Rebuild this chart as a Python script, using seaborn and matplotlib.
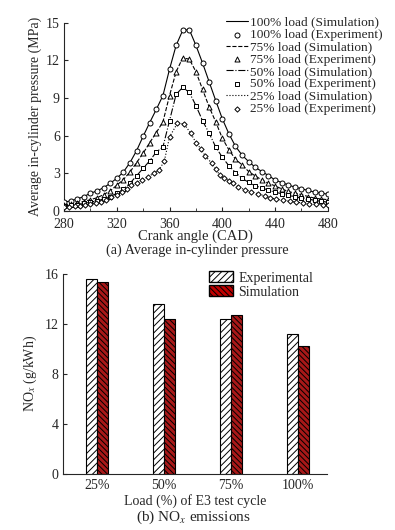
import numpy as np
import pandas as pd
import seaborn as sns
import matplotlib.pyplot as plt
from matplotlib.ticker import MultipleLocator
from matplotlib.patches import Patch

# ---------------- data: (a) in-cylinder pressure ----------------
cad = [280, 285, 290, 295, 300, 305, 310, 315, 320, 325, 330, 335, 340, 345, 350,
       355, 360, 365, 370, 375, 380, 385, 390, 395, 400, 405, 410, 415, 420, 425,
       430, 435, 440, 445, 450, 455, 460, 465, 470, 475, 480]
p100 = [0.70, 0.80, 0.95, 1.15, 1.40, 1.60, 1.85, 2.20, 2.60, 3.10, 3.85, 4.80, 5.95, 7.05, 8.10,
        9.20, 11.3, 13.2, 14.4, 14.45, 13.2, 11.8, 10.3, 8.80, 7.35, 6.15, 5.15, 4.45, 3.93, 3.48,
        3.14, 2.82, 2.47, 2.26, 2.07, 1.90, 1.77, 1.63, 1.50, 1.42, 1.33]
p75 = [0.50, 0.55, 0.65, 0.75, 0.90, 1.05, 1.30, 1.60, 2.05, 2.50, 3.10, 3.85, 4.60, 5.45, 6.25,
       7.10, 9.20, 11.1, 12.2, 12.1, 11.1, 9.70, 8.30, 7.10, 5.80, 4.87, 4.12, 3.67, 3.14, 2.79,
       2.47, 2.20, 2.00, 1.76, 1.55, 1.42, 1.30, 1.15, 1.02, 0.95, 0.90]
p50 = [0.40, 0.45, 0.50, 0.60, 0.70, 0.80, 0.95, 1.15, 1.40, 1.75, 2.20, 2.80, 3.40, 4.00, 4.70,
       5.10, 7.20, 9.30, 9.85, 9.45, 8.40, 7.20, 6.20, 5.10, 4.28, 3.60, 3.06, 2.60, 2.28, 2.00,
       1.84, 1.65, 1.50, 1.37, 1.25, 1.12, 1.04, 0.95, 0.85, 0.77, 0.70]
cad25 = [280, 284, 288, 292, 296, 300, 304, 308, 312, 316, 320, 324, 328, 331, 335, 339,
         344, 348, 352, 356, 360, 366, 371, 376, 380, 384, 387, 392, 395, 398, 401, 405,
         408, 412, 417, 422, 427, 432, 436, 441, 446, 451, 456, 461, 466, 471, 476, 480]
p25 = [0.30, 0.33, 0.37, 0.42, 0.48, 0.54, 0.62, 0.72, 0.88, 1.09, 1.28, 1.54, 1.78, 2.07, 2.26, 2.47,
       2.74, 3.00, 3.27, 3.95, 5.90, 7.00, 6.94, 6.20, 5.45, 4.92, 4.39, 3.80, 3.33, 2.87, 2.60, 2.42,
       2.20, 1.94, 1.68, 1.54, 1.36, 1.20, 1.06, 0.93, 0.85, 0.77, 0.70, 0.64, 0.58, 0.53, 0.50, 0.48]

# ---------------- data: (b) NOx emissions ----------------
loads = ['25%', '50%', '75%', '100%']
nox_exp = [15.6, 13.6, 12.4, 11.2]
nox_sim = [15.4, 12.4, 12.7, 10.2]

sns.set_style('ticks')
plt.rcParams['font.family'] = ['Liberation Serif', 'DejaVu Serif']
plt.rcParams['mathtext.fontset'] = 'stix'
plt.rcParams['font.size'] = 10
plt.rcParams['hatch.linewidth'] = 0.7

fig = plt.figure(figsize=(3.95, 5.3), dpi=100)

# ---------------- (a) ----------------
ax1 = fig.add_axes([0.162, 0.602, 0.668, 0.355])

# label, x, y, line style, marker, marker size
series = [
    ('100%', cad, p100, '-', 'o', 13),
    ('75%', cad, p75, '--', '^', 13),
    ('50%', cad, p50, '-.', 's', 8),
    ('25%', cad25, p25, ':', 'D', 7),
]
for name, x, y, ls, mk, ms in series:
    df = pd.DataFrame({'cad': x, 'p': y})
    sns.lineplot(data=df, x='cad', y='p', color='black', linestyle=ls, linewidth=0.8,
                 ax=ax1, label=f'{name} load (Simulation)')
    sns.scatterplot(data=df, x='cad', y='p', marker=mk, s=ms,
                    color='white', edgecolor='black', linewidth=0.7, ax=ax1,
                    label=f'{name} load (Experiment)', zorder=3)

ax1.set_xlim(280, 480)
ax1.set_ylim(0, 15)
ax1.xaxis.set_major_locator(MultipleLocator(40))
ax1.xaxis.set_minor_locator(MultipleLocator(20))
ax1.yaxis.set_major_locator(MultipleLocator(3))
ax1.tick_params(direction='in', length=3, width=0.8, labelsize=10)
ax1.tick_params(axis='x', pad=5)
ax1.tick_params(axis='y', pad=3)
ax1.tick_params(which='minor', direction='in', length=2, width=0.6)
ax1.set_xlabel('Crank angle (CAD)', fontsize=10.5, labelpad=-1)
ax1.set_ylabel('Average in-cylinder pressure (MPa)', fontsize=10, labelpad=3)
sns.despine(ax=ax1)
ax1.legend(loc='upper left', bbox_to_anchor=(0.572, 0.969), bbox_transform=fig.transFigure,
           frameon=False, fontsize=9.6, handlelength=1.65, handletextpad=0.15,
           labelspacing=0.0, borderpad=0, borderaxespad=0)

fig.text(0.5, 0.527, '(a) Average in-cylinder pressure', ha='center', va='center', fontsize=10.3)

# ---------------- (b) ----------------
ax2 = fig.add_axes([0.159, 0.106, 0.669, 0.377])
bars = pd.DataFrame({
    'load': loads * 2,
    'nox': nox_exp + nox_sim,
    'kind': ['Experimental'] * 4 + ['Simulation'] * 4,
})
sns.barplot(data=bars, x='load', y='nox', hue='kind', width=0.33,
            palette=['white', '#c00000'], edgecolor='black', linewidth=0.8,
            ax=ax2, legend=False)
for bar in ax2.containers[0]:
    bar.set_hatch('/////')
for bar in ax2.containers[1]:
    bar.set_hatch('\\\\\\\\\\\\')

ax2.set_xlim(-0.51, 3.43)
ax2.set_ylim(0, 16)
ax2.yaxis.set_major_locator(MultipleLocator(4))
ax2.tick_params(axis='y', direction='in', length=3, width=0.8, labelsize=10, pad=3)
ax2.tick_params(axis='x', length=0, labelsize=10, pad=4)
ax2.set_xlabel('Load (%) of E3 test cycle', fontsize=10, labelpad=1)
ax2.set_ylabel('NO$_x$ (g/kWh)', fontsize=10, labelpad=4)
sns.despine(ax=ax2)

handles = [Patch(facecolor='white', edgecolor='black', hatch='/////', label='Experimental'),
           Patch(facecolor='#c00000', edgecolor='black', hatch='\\\\\\\\\\\\', label='Simulation')]
ax2.legend(handles=handles, loc='upper left', bbox_to_anchor=(0.53, 0.488),
           bbox_transform=fig.transFigure, frameon=False, fontsize=10,
           handlelength=1.7, handleheight=0.85, handletextpad=0.4,
           labelspacing=0.05, borderpad=0, borderaxespad=0)

fig.text(0.49, 0.024, '(b) NO$_x$ emissions', ha='center', va='center', fontsize=11)

fig.savefig('out.png', dpi=100)
